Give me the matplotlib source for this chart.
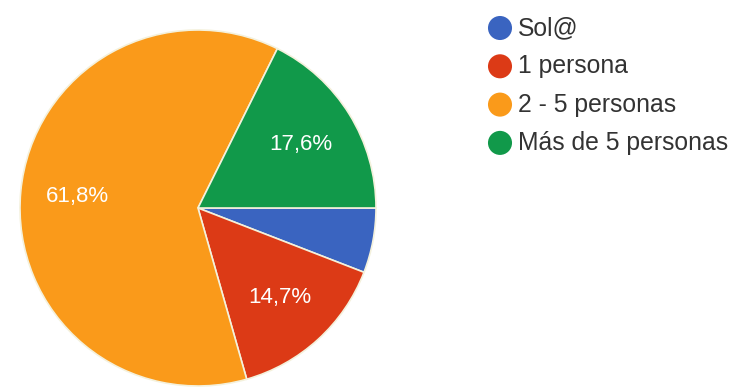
import matplotlib.pyplot as plt

labels = ['Sol@', '1 persona', '2 - 5 personas', 'Más de 5 personas']
counts = [2, 5, 21, 6]
colors = ['#3a64c0', '#dc3a16', '#fa9a1a', '#11994a']

plt.rcParams['font.family'] = ['Liberation Sans', 'DejaVu Sans']

W, H = 733, 389
fig = plt.figure(figsize=(W / 100, H / 100), dpi=100)

# pie: centre (198, 208) px, radius 178 px
cx, cy, r = 198, 208, 178
ax = fig.add_axes([(cx - r) / W, (H - cy - r) / H, 2 * r / W, 2 * r / H])


def fmt(pct):
    if pct < 10:
        return ''
    return f'{pct:.1f}%'.replace('.', ',')


wedges, texts, autotexts = ax.pie(
    counts, colors=colors, startangle=0, counterclock=False,
    autopct=fmt, pctdistance=0.68,
    wedgeprops=dict(edgecolor='#f4f1dc', linewidth=1.2),
    textprops=dict(color='white', fontsize=16))
ax.set_xlim(-1, 1)
ax.set_ylim(-1, 1)
ax.set_aspect('auto')

# legend drawn in pixel space
lax = fig.add_axes([0, 0, 1, 1])
lax.set_xlim(0, W)
lax.set_ylim(H, 0)
lax.axis('off')
for i, (lab, col) in enumerate(zip(labels, colors)):
    y = 28 + i * 38.3
    lax.scatter(500, y, s=300, color=col, edgecolors='none')
    lax.text(518, y, lab, fontsize=17.8, color='#333333', va='center', ha='left')

fig.savefig('out.png', dpi=100)
